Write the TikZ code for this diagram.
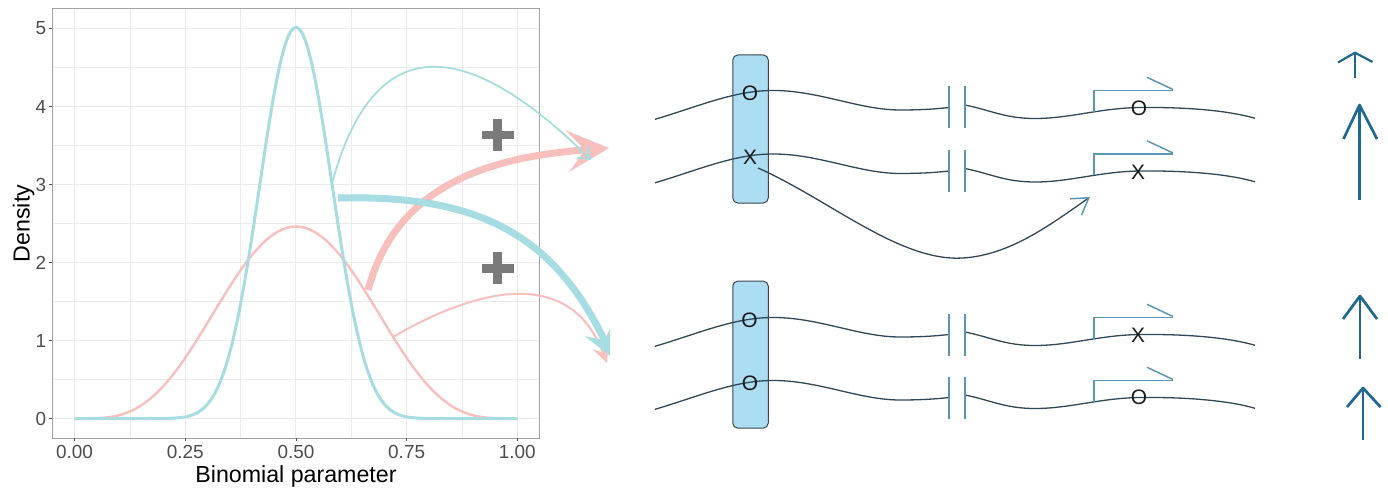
\documentclass[tikz,border=0pt]{standalone}
\usepackage{fontspec}
\setmainfont{Liberation Sans}
\usetikzlibrary{arrows.meta}

\definecolor{curveblue}{HTML}{A6DCE2}
\definecolor{curvered}{HTML}{F8C0BC}
\definecolor{plusgrey}{HTML}{7A7A7A}
\definecolor{gridgrey}{HTML}{EBEBEB}
\definecolor{framegrey}{HTML}{A3A3A3}
\definecolor{labelgrey}{HTML}{4D4D4D}
\definecolor{strandcol}{HTML}{2F4858}
\definecolor{steel}{HTML}{5B97B4}
\definecolor{deepblue}{HTML}{1F6990}
\definecolor{boxblue}{HTML}{ACDDF2}
\definecolor{boxedge}{HTML}{3C4650}
\definecolor{lettercol}{HTML}{1A1A1A}

\tikzset{
  gridmajor/.style={draw=gridgrey, line width=1bp},
  gridminor/.style={draw=gridgrey, line width=0.5bp},
  panelframe/.style={draw=framegrey, line width=1bp},
  tickmark/.style={draw=labelgrey, line width=0.8bp},
  ticklabel/.style={text=labelgrey, inner sep=0pt, font=\fontsize{19}{19}\selectfont},
  axistitle/.style={text=black, inner sep=0pt, font=\fontsize{23.3}{23.3}\selectfont},
  bluecurve/.style={draw=curveblue, line width=3bp},
  redcurve/.style={draw=curvered, line width=2.4bp},
  thickblue/.style={draw=curveblue, line width=7bp},
  thickred/.style={draw=curvered, line width=7bp},
  thinblue/.style={draw=curveblue, line width=1.8bp},
  thinred/.style={draw=curvered, line width=2bp},
  plusmark/.style={draw=plusgrey, line width=8.5bp},
  strandline/.style={draw=strandcol, line width=1.3bp},
  gapbar/.style={draw=steel, line width=1.5bp},
  promoterline/.style={draw=steel, line width=1.5bp},
  genebox/.style={draw=boxedge, fill=boxblue, line width=1bp, rounded corners=5bp,
                  minimum width=35.5bp, inner sep=0pt},
  allele/.style={text=lettercol, inner sep=0pt, font=\fontsize{21}{21}\selectfont},
  upshaft/.style={draw=deepblue, line width=2.7bp},
  uphead/.style={draw=deepblue, line width=2.7bp, line join=round},
}

\begin{document}
\begin{tikzpicture}[x=1bp, y=-1bp]
\useasboundingbox (0,0) rectangle (1388,488);

% ---------------- density plot ----------------
\begin{scope}[shift={(74.6,418.5)}, x=442.7bp, y=78bp]
  \foreach \v in {0.125,0.375,0.625,0.875}
    \draw[gridminor] (\v,-0.25) -- (\v,5.25);
  \foreach \v in {0.5,1.5,2.5,3.5,4.5}
    \draw[gridminor] (-0.05,\v) -- (1.05,\v);
  \foreach \v in {0,0.25,0.5,0.75,1}
    \draw[gridmajor] (\v,-0.25) -- (\v,5.25);
  \foreach \v in {0,...,5}
    \draw[gridmajor] (-0.05,\v) -- (1.05,\v);

  % Beta(5,5) and Beta(20,20) densities
  \draw[redcurve] (0,0) -- plot[domain=0.01:0.99, samples=120]
      (\x, {2.4609*(4*\x*(1-\x))^4}) -- (1,0);
  \draw[bluecurve] (0,0) -- plot[domain=0.01:0.99, samples=160]
      (\x, {5.0148*(4*\x*(1-\x))^19}) -- (1,0);

  \draw[panelframe] (-0.05,-0.25) rectangle (1.05,5.25);

  \foreach \v/\t in {0/0.00,0.25/0.25,0.5/0.50,0.75/0.75,1/1.00} {
    \draw[tickmark] (\v,-0.25) -- ++(0pt,-3bp);
    \node[ticklabel, anchor=base, yshift=-20.8bp] at (\v,-0.25) {\t};
  }
  \foreach \v in {0,...,5} {
    \draw[tickmark] (-0.05,\v) -- ++(-3bp,0pt);
    \node[ticklabel, anchor=east, xshift=-6bp] at (-0.05,\v) {\v};
  }
\end{scope}

\node[axistitle, anchor=base] (xtitle) at (296,482) {Binomial parameter};
\node[axistitle, anchor=base, rotate=90] (ytitle) at (29.5,223.5) {Density};

% ---------------- arrows leaving the plot ----------------
\coordinate (redStart) at (393,337);
\coordinate (redThickStart) at (368,290);
\coordinate (blueStart) at (332,183.5);
\coordinate (blueThickStart) at (338,198);
\coordinate (upperTip) at (609,148);
\coordinate (blueUpperTip) at (591,160);
\coordinate (lowerTip) at (613,358);
\coordinate (redLowerTip) at (607,363);

\begin{scope}
  \clip (0,0) rectangle (610,488);
  \draw[thickred, -{Stealth[length=42bp, width=42bp, inset=18bp, line width=0pt]}]
    (redThickStart) .. controls (395,190) and (480,158) .. (upperTip);
  \draw[thinred, -{Stealth[length=18bp, width=17bp, inset=7bp, line width=0pt]}]
    (redStart) .. controls (470,292) and (568,262) .. (redLowerTip);
  \draw[thickblue, -{Stealth[length=32bp, width=32bp, inset=12bp, line width=0pt]}]
    (blueThickStart) .. controls (470,195) and (550,228) .. (lowerTip);
  \draw[thinblue, -{Straight Barb[length=10bp, width=16bp]}]
    (blueStart) .. controls (372,35) and (460,30) .. (blueUpperTip);
\end{scope}

% plus signs
\draw[plusmark] (481.5,135) -- (513.5,135) (497.5,119) -- (497.5,151);
\draw[plusmark] (481.5,268.3) -- (513.5,268.3) (497.5,252.3) -- (497.5,284.3);

% ---------------- chromosome pairs ----------------
\node[genebox, minimum height=148bp] (boxTop) at (750.5,129) {};
\node[genebox, minimum height=147bp] (boxBottom) at (750.5,354.6) {};

\foreach \dy in {0,63.5,227,290} {
  \begin{scope}[shift={(0,\dy)}]
    \draw[strandline]
      (655,119.3) .. controls (700,106) and (735,90) .. (775,90.5)
      .. controls (820,91) and (860,110) .. (900,110)
      .. controls (925,110) and (940,108.5) .. (949,107.5);
    \draw[strandline]
      (965,105) .. controls (990,110) and (1005,118.5) .. (1035,118.5)
      .. controls (1070,118.5) and (1100,108) .. (1140,107.5)
      .. controls (1190,107) and (1230,111) .. (1255,118.3);
    \draw[gapbar] (949,86.5) -- (949,128.5);
    \draw[gapbar] (965,86.5) -- (965,128.5);
    \draw[promoterline] (1094,111.7) |- (1173,90.7);
    \draw[promoterline] (1147,77.3) -- (1173,89.5);
  \end{scope}
}

% alleles
\node[allele] (aTopOne) at (750,93.5) {O};
\node[allele] (aTopTwo) at (750,157) {X};
\node[allele] (aBotOne) at (749.5,320) {O};
\node[allele] (aBotTwo) at (750,383) {O};
\node[allele] (bTopOne) at (1139,108) {O};
\node[allele] (bTopTwo) at (1138,172) {X};
\node[allele] (bBotOne) at (1138,335) {X};
\node[allele] (bBotTwo) at (1139,397) {O};

% regulatory effect of the X allele
\coordinate (effectStart) at (758,168);
\coordinate (effectEnd) at (1090,197);
\draw[strandline, -{Straight Barb[color=steel, length=16bp, width=20bp, line width=1.5bp]}]
  (effectStart) .. controls (830,200) and (900,262) .. (963,258)
  .. controls (1010,255) and (1050,225) .. (effectEnd);

% expression arrows
\draw[upshaft, line width=2.2bp] (1355,78) -- (1355,54);
\draw[uphead, line width=2.2bp] (1338,62.5) -- (1355,52.7) -- (1372.5,62);
\draw[upshaft] (1359.5,200) -- (1359.5,107);
\draw[uphead] (1343.5,139) -- (1359.5,105) -- (1377,139);
\draw[upshaft] (1360,359) -- (1360,298);
\draw[uphead] (1343,319) -- (1360,296) -- (1377,319);
\draw[upshaft] (1363,440) -- (1363,390);
\draw[uphead] (1347,407) -- (1363,388) -- (1380.5,407);
\end{tikzpicture}
\end{document}
